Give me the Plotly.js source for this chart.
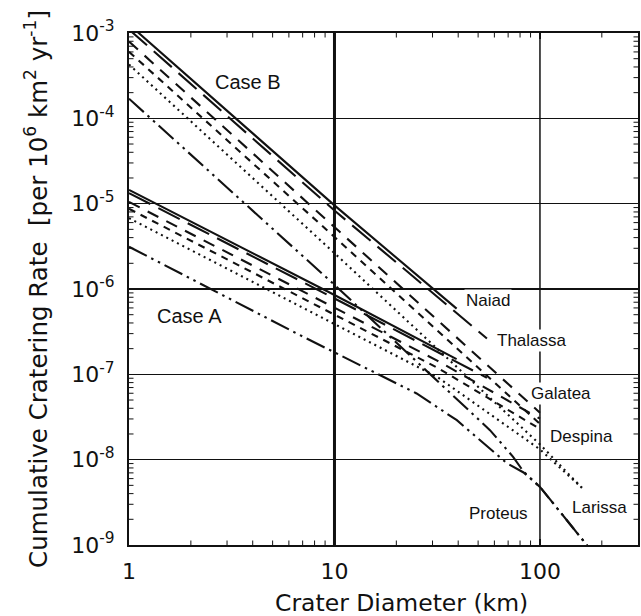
<!DOCTYPE html>
<html>
<head>
<meta charset="utf-8">
<script src="https://cdn.plot.ly/plotly-3.0.1.min.js"></script>
<style>html,body{margin:0;padding:0;background:#fff;}</style>
</head>
<body>
<div id="chart" style="width:641px;height:616px;"></div>
<script>
// ---- Data (crater diameter in km, cumulative rate per 1e6 km^2 per yr) ----
const moons = ['Naiad', 'Thalassa', 'Despina', 'Galatea', 'Larissa', 'Proteus'];

// Case B (steep small-impactor distribution)
const naiadB_D    = [1, 10, 39.3];
const naiadB_R    = [1.26e-3, 9.55e-6, 5.89e-7];
const thalassaB_D = [1, 10, 55.2];
const thalassaB_R = [1.10e-3, 8.32e-6, 2.63e-7];
const despinaB_D  = [1, 10, 100];
const despinaB_R  = [7.94e-4, 5.37e-6, 3.55e-8];
const galateaB_D  = [1, 10, 100];
const galateaB_R  = [6.03e-4, 4.07e-6, 2.63e-8];
const larissaB_D  = [1, 10, 100, 160];
const larissaB_R  = [4.27e-4, 2.63e-6, 1.51e-8, 4.68e-9];
const proteusB_D  = [1, 10, 57.1, 74.0, 83.2, 100, 169, 178];
const proteusB_R  = [1.70e-4, 1.12e-6, 2.22e-8, 1.08e-8, 7.24e-9, 4.79e-9, 1.0e-9, 7.08e-10];

// Case A (shallow small-impactor distribution)
const naiadA_D    = [1, 10, 39.3];
const naiadA_R    = [1.45e-5, 8.51e-7, 1.51e-7];
const thalassaA_D = [1, 10, 55.2];
const thalassaA_R = [1.33e-5, 7.76e-7, 9.12e-8];
const despinaA_D  = [1, 10, 31.6, 100];
const despinaA_R  = [1.05e-5, 6.03e-7, 1.45e-7, 3.02e-8];
const galateaA_D  = [1, 10, 31.6, 100];
const galateaA_R  = [8.71e-6, 5.01e-7, 1.20e-7, 2.29e-8];
const larissaA_D  = [1, 10, 31.6, 100, 160];
const larissaA_R  = [6.76e-6, 3.89e-7, 9.33e-8, 1.32e-8, 4.68e-9];
const proteusA_D  = [1, 6.79, 25.1, 39.4, 68.9, 83.2, 100, 169, 178];
const proteusA_R  = [3.13e-6, 2.88e-7, 5.97e-8, 2.90e-8, 9.12e-9, 7.08e-9, 4.79e-9, 1.0e-9, 7.08e-10];

// Axis tick values
const xMajorTicks = [1, 10, 100];
const xTickText = ['1', '10', '100'];
const yTickVals = [1e-9, 1e-8, 1e-7, 1e-6, 1e-5, 1e-4, 1e-3];
const yTickText = ['10<sup>-9</sup>', '10<sup>-8</sup>', '10<sup>-7</sup>', '10<sup>-6</sup>',
                   '10<sup>-5</sup>', '10<sup>-4</sup>', '10<sup>-3</sup>'];

// ---- Styling per moon ----
const dashes = {
  Naiad: 'solid',
  Thalassa: '24px,9px',
  Despina: '12px,9px',
  Galatea: '7px,6px',
  Larissa: '2px,4px',
  Proteus: '20px,5px,2.5px,5px,2.5px,5px'
};

const series = [
  ['Naiad', naiadB_D, naiadB_R], ['Thalassa', thalassaB_D, thalassaB_R],
  ['Despina', despinaB_D, despinaB_R], ['Galatea', galateaB_D, galateaB_R],
  ['Larissa', larissaB_D, larissaB_R], ['Proteus', proteusB_D, proteusB_R],
  ['Naiad', naiadA_D, naiadA_R], ['Thalassa', thalassaA_D, thalassaA_R],
  ['Despina', despinaA_D, despinaA_R], ['Galatea', galateaA_D, galateaA_R],
  ['Larissa', larissaA_D, larissaA_R], ['Proteus', proteusA_D, proteusA_R]
];

const traces = series.map(([name, d, r]) => ({
  type: 'scatter', mode: 'lines', name: name,
  x: d, y: r,
  line: {color: '#111', width: 2.1, dash: dashes[name]},
  hoverinfo: 'skip'
}));

// minor tick positions (2..9 within each decade) drawn as short inside ticks on all four sides
const xMinor = [];
for (let e = 0; e <= 2; e++) for (let m = 2; m <= 9; m++) { const v = m * Math.pow(10, e); if (v < 300) xMinor.push(v); }
const yMinor = [];
for (let e = -9; e <= -4; e++) for (let m = 2; m <= 9; m++) yMinor.push(m * Math.pow(10, e));

const plotW = 509, plotH = 512, tl = 4.5;
const tickLine = {color: '#111', width: 1};
const minorShapes = [];
xMinor.forEach(v => {
  minorShapes.push({type: 'line', xref: 'x', yref: 'paper', x0: v, x1: v, y0: 0, y1: tl / plotH, line: tickLine});
  minorShapes.push({type: 'line', xref: 'x', yref: 'paper', x0: v, x1: v, y0: 1 - tl / plotH, y1: 1, line: tickLine});
});
yMinor.forEach(v => {
  minorShapes.push({type: 'line', xref: 'paper', yref: 'y', y0: v, y1: v, x0: 0, x1: tl / plotW, line: tickLine});
  minorShapes.push({type: 'line', xref: 'paper', yref: 'y', y0: v, y1: v, x0: 1 - tl / plotW, x1: 1, line: tickLine});
});

const lab = (text, x, y, size, bg) => ({
  text: text, xref: 'x', yref: 'y', x: x, y: y, showarrow: false,
  font: {family: 'Liberation Sans, Arial, sans-serif', size: size, color: '#111'},
  bgcolor: bg ? 'white' : 'rgba(0,0,0,0)', borderpad: 1,
  xanchor: 'center', yanchor: 'middle'
});

const layout = {
  width: 641, height: 616,
  margin: {l: 129, r: 3, t: 33, b: 71},
  paper_bgcolor: 'white', plot_bgcolor: 'white',
  showlegend: false,
  font: {family: 'DejaVu Sans, sans-serif', color: '#111'},
  xaxis: {
    type: 'log', range: [0, Math.log10(300)],
    showline: true, linecolor: '#111', linewidth: 2, mirror: 'allticks',
    ticks: 'inside', ticklen: 6, tickwidth: 1.5, tickcolor: '#111',
    tickmode: 'array', tickvals: xMajorTicks, ticktext: xTickText,
    showgrid: false, zeroline: false,
    tickfont: {size: 22, family: 'DejaVu Sans, sans-serif'},
    ticklabelstandoff: 6,
    automargin: false
  },
  yaxis: {
    type: 'log', range: [-9, -3],
    showline: true, linecolor: '#111', linewidth: 2, mirror: 'allticks',
    ticks: 'inside', ticklen: 6, tickwidth: 1.5, tickcolor: '#111',
    tickmode: 'array', tickvals: yTickVals, ticktext: yTickText,
    showgrid: true, gridcolor: '#111', gridwidth: 1.2, zeroline: false,
    tickfont: {size: 22, family: 'DejaVu Sans, sans-serif'},
    ticklabelstandoff: 8,
    title: {text: 'Cumulative Cratering Rate&nbsp;&nbsp;[per 10<sup>6</sup> km<sup>2</sup> yr<sup>-1</sup>]',
            font: {size: 24.5, family: 'DejaVu Sans, sans-serif'}, standoff: 17},
    automargin: false
  },
  shapes: [
    {type: 'line', xref: 'x', yref: 'paper', x0: 10, x1: 10, y0: 0, y1: 1, line: {color: '#111', width: 3}, layer: 'below'},
    {type: 'line', xref: 'x', yref: 'paper', x0: 100, x1: 100, y0: 0, y1: 1, line: {color: '#111', width: 1.5}, layer: 'below'}
  ].concat(minorShapes),
  annotations: [
    {text: 'Crater Diameter (km)', xref: 'paper', yref: 'paper', x: 0.5344, y: -0.113,
     xanchor: 'center', yanchor: 'middle', showarrow: false,
     font: {family: 'DejaVu Sans, sans-serif', size: 23.5, color: '#111'}},
    lab('Case B', 0.579, -3.574, 20, false),
    lab('Case A', 0.292, -6.318, 20, false),
    lab('Naiad', 1.747, -6.13, 17, true),
    lab('Thalassa', 1.961, -6.599, 17, true),
    lab('Galatea', 2.102, -7.22, 17, true),
    lab('Despina', 2.204, -7.725, 17, true),
    lab('Larissa', 2.292, -8.557, 17, true),
    lab('Proteus', 1.796, -8.627, 17, true)
  ]
};

Plotly.newPlot('chart', traces, layout, {staticPlot: true, displayModeBar: false});
</script>
</body>
</html>
